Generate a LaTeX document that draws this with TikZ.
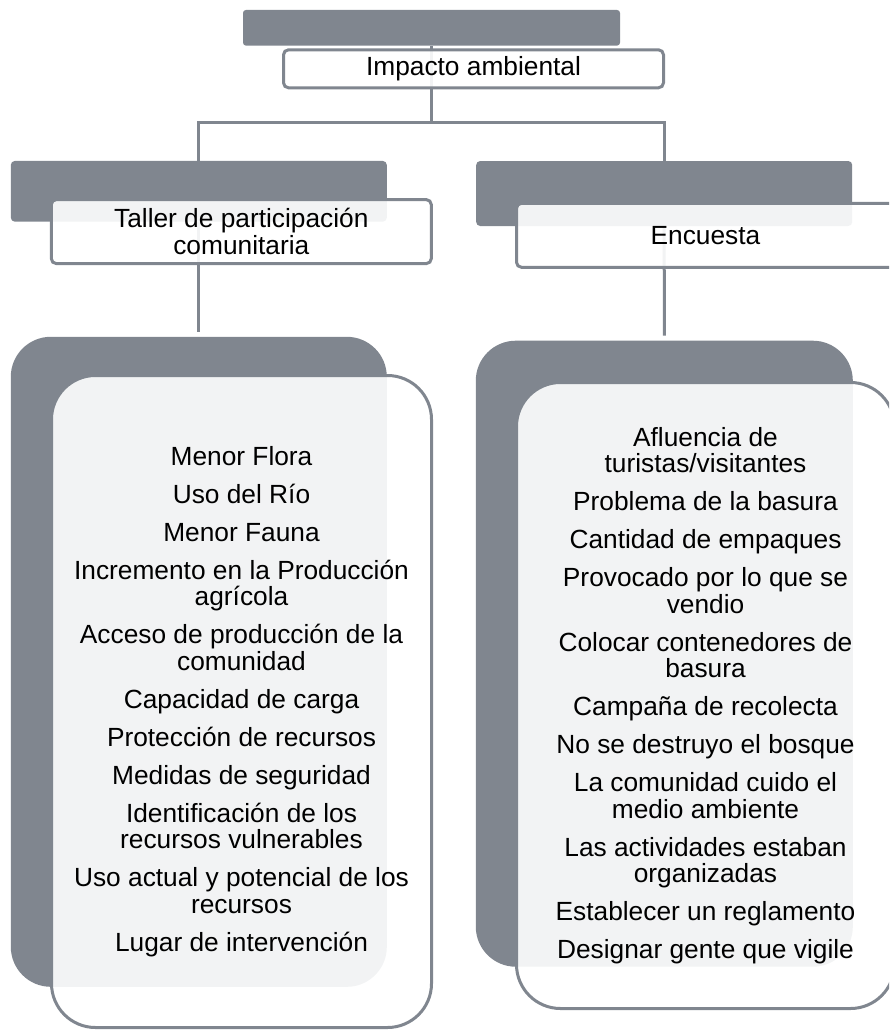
\documentclass[tikz,border=0pt]{standalone}
\usepackage{fontspec}
\setmainfont{Liberation Sans}
\definecolor{sgray}{RGB}{128,134,143}
\pgfdeclarelayer{bglayer}
\pgfdeclarelayer{midlayer}
\pgfsetlayers{bglayer,midlayer,main}
\tikzset{
  backbox/.style={fill=sgray, draw=none, inner sep=0pt, minimum width=#1},
  frontbox/.style={draw=sgray, line width=3pt, fill=white, fill opacity=0.9, draw opacity=1, text opacity=1,
    inner sep=0pt, minimum width=#1, align=center, text=black,
    font=\fontsize{26.3}{26.5}\selectfont},
  conn/.style={draw=sgray, line width=3pt},
}
\begin{document}
\begin{tikzpicture}[x=1pt,y=-1pt]
\useasboundingbox (0,0) rectangle (889,1030);
\clip (0,0) rectangle (889,1030);
% gray back boxes
\begin{pgfonlayer}{bglayer}
\node[backbox=377pt, minimum height=35.7pt, rounded corners=3pt] (g1) at (431.5,27.8) {};
\node[backbox=376pt, minimum height=60.7pt, rounded corners=4pt] (g2l) at (198.8,191.3) {};
\node[backbox=376pt, minimum height=65pt, rounded corners=4pt] (g2r) at (664.2,193.5) {};
\node[backbox=376pt, minimum height=650pt, rounded corners=40pt] (g3l) at (198.8,661.8) {};
\node[backbox=377pt, minimum height=626pt, rounded corners=40pt] (g3r) at (664.3,653.7) {};
\end{pgfonlayer}
% white front boxes
\node[frontbox=380pt, minimum height=38pt, rounded corners=5pt] (w1) at (473.5,68.8) {Impacto ambiental};
\node[frontbox=380pt, minimum height=64pt, rounded corners=5pt] (w2l) at (241.3,231.6) {Taller de participación\\comunitaria};
\node[frontbox=378pt, minimum height=64pt, rounded corners=5pt] (w2r) at (705.5,235.3) {Encuesta};
\node[frontbox=380pt, minimum height=652pt, rounded corners=44pt] (w3l) at (241.5,701.5) {%
Menor Flora\\[11.5pt]
Uso del Río\\[11.5pt]
Menor Fauna\\[11.5pt]
Incremento en la Producción\\agrícola\\[11.5pt]
Acceso de producción de la\\comunidad\\[11.5pt]
Capacidad de carga\\[11.5pt]
Protección de recursos\\[11.5pt]
Medidas de seguridad\\[11.5pt]
Identificación de los\\recursos vulnerables\\[11.5pt]
Uso actual y potencial de los\\recursos\\[11.5pt]
Lugar de intervención};
\node[frontbox=378pt, minimum height=626pt, rounded corners=44pt] (w3r) at (705.5,695.5) {%
Afluencia de\\turistas/visitantes\\[11.5pt]
Problema de la basura\\[11.5pt]
Cantidad de empaques\\[11.5pt]
Provocado por lo que se\\vendio\\[11.5pt]
Colocar contenedores de\\basura\\[11.5pt]
Campaña de recolecta\\[11.5pt]
No se destruyo el bosque\\[11.5pt]
La comunidad cuido el\\medio ambiente\\[11.5pt]
Las actividades estaban\\organizadas\\[11.5pt]
Establecer un reglamento\\[11.5pt]
Designar gente que vigile};
% connectors
\coordinate (hbar) at (431.5,123);
\begin{pgfonlayer}{midlayer}
\draw[conn] (g1.south) -- (g1.center |- hbar);
\draw[conn] (g2l.north) -- (g2l.north |- hbar) -- (g2r.north |- hbar) -- (g2r.north);
\draw[conn] (g2l.south) -- ([yshift=4.5pt]g3l.north);
\draw[conn] (g2r.south) -- ([yshift=5pt]g3r.north);
\end{pgfonlayer}
\end{tikzpicture}
\end{document}
